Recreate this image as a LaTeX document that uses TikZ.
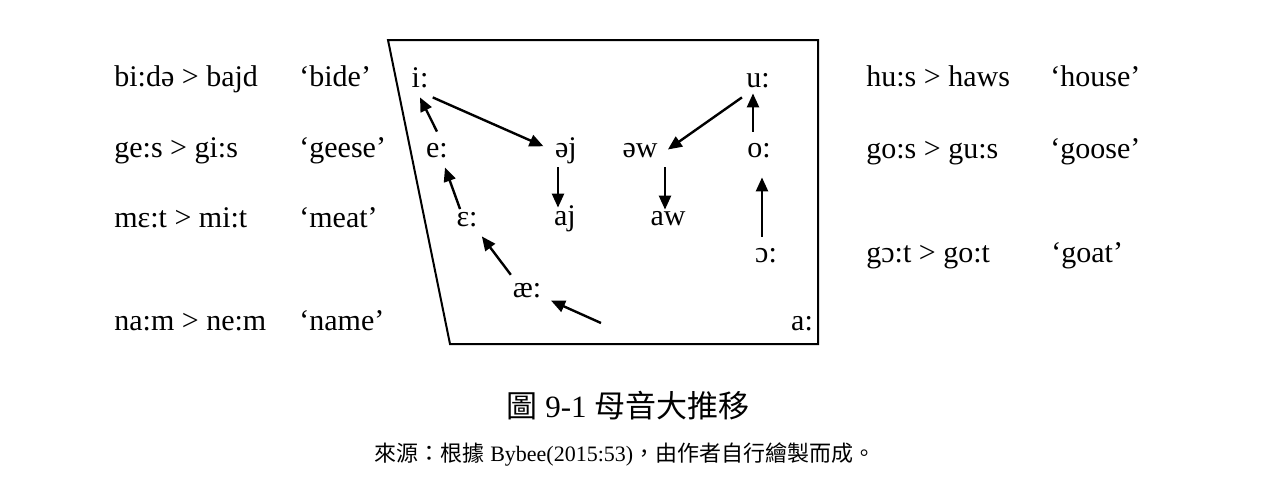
\documentclass[tikz,border=0pt]{standalone}
\usepackage{fontspec}
\setmainfont{Liberation Serif}
\newfontfamily\cjk{Noto Sans CJK TC}
\usetikzlibrary{arrows.meta}
\begin{document}
\begin{tikzpicture}[x=0.5pt,y=-0.5pt,
  lbl/.style={anchor=base west, inner sep=0pt, font=\fontsize{15}{18}\selectfont},
  vow/.style={anchor=base, inner sep=2pt, text height=10.5pt, text depth=3pt, font=\fontsize{15}{18}\selectfont},
  arr/.style={-{Triangle[length=7pt,width=6pt]}, line width=1.2pt},
  frame/.style={line width=1pt}]
\useasboundingbox (0,0) rectangle (1276,494);
% frame
\draw[frame] (388,40) -- (818,40) -- (818,344) -- (450,344) -- cycle;
% left examples
\node[lbl] (l1) at (114,86) {bi:də > bajd};
\node[lbl] (g1) at (299,86) {‘bide’};
\node[lbl] (l2) at (114,157) {ge:s > gi:s};
\node[lbl] (g2) at (299,157) {‘geese’};
\node[lbl] (l3) at (114,227) {mɛ:t > mi:t};
\node[lbl] (g3) at (299,227) {‘meat’};
\node[lbl] (l4) at (114,330) {na:m > ne:m};
\node[lbl] (g4) at (299,330) {‘name’};
% right examples
\node[lbl] (r1) at (866,86) {hu:s > haws};
\node[lbl] (h1) at (1050,86) {‘house’};
\node[lbl] (r2) at (866,158) {go:s > gu:s};
\node[lbl] (h2) at (1050,158) {‘goose’};
\node[lbl] (r3) at (866,262) {gɔ:t > go:t};
\node[lbl] (h3) at (1051,262) {‘goat’};
% vowels
\node[vow] (i) at (420,87) {i:};
\node[vow] (u) at (758,87) {u:};
\node[vow] (e) at (437,157) {e:};
\node[vow] (ej) at (566,157) {əj};
\node[vow] (ew) at (640,157) {əw};
\node[vow] (o) at (759,157) {o:};
\node[vow] (E) at (467,226) {ɛ:};
\node[vow] (aj) at (565,225) {aj};
\node[vow] (aw) at (668,225) {aw};
\node[vow] (oo) at (766,262) {ɔ:};
\node[vow] (ae) at (527,297) {æ:};
\node[vow] (a) at (802,330) {a:};
\coordinate (src) at (601,323);
% arrows
\draw[arr, shorten >=4pt] (i.south east) -- (ej.west);
\draw[arr] (e.north) -- (i.south);
\draw[arr, shorten <=-4.5pt] ([xshift=-5pt]E.north) -- ([xshift=4pt]e.south);
\draw[arr, shorten <=-2pt] (ae.north west) -- (E.south east);
\draw[arr, shorten >=3pt] (src) -- (ae.-25);
\draw[arr, shorten >=-4pt] ([xshift=-4pt]ej.south) -- ([xshift=-4pt]ej.south |- aj.north);
\draw[arr, shorten >=-5pt] ([xshift=-1.5pt]ew.south -| aw.north) -- ([xshift=-1.5pt]aw.north);
\draw[arr] (u.south west) -- ([xshift=3pt]ew.east);
\draw[arr, shorten >=-2pt] ([xshift=-3pt]o.north) -- ([xshift=-3pt]o.north |- u.south);
\draw[arr, shorten >=5pt] ([xshift=-2pt]oo.north) -- ([xshift=-2pt]oo.north |- o.south);
% captions
\node (title) at (628,406) {\fontsize{15.5}{18}\selectfont{\cjk 圖} 9-1 {\cjk 母音大推移}};
\node (source) at (625,455) {\fontsize{11}{13}\selectfont{\cjk 來源：根據} Bybee(2015:53){\cjk ，由作者自行繪製而成。}};
\end{tikzpicture}
\end{document}
